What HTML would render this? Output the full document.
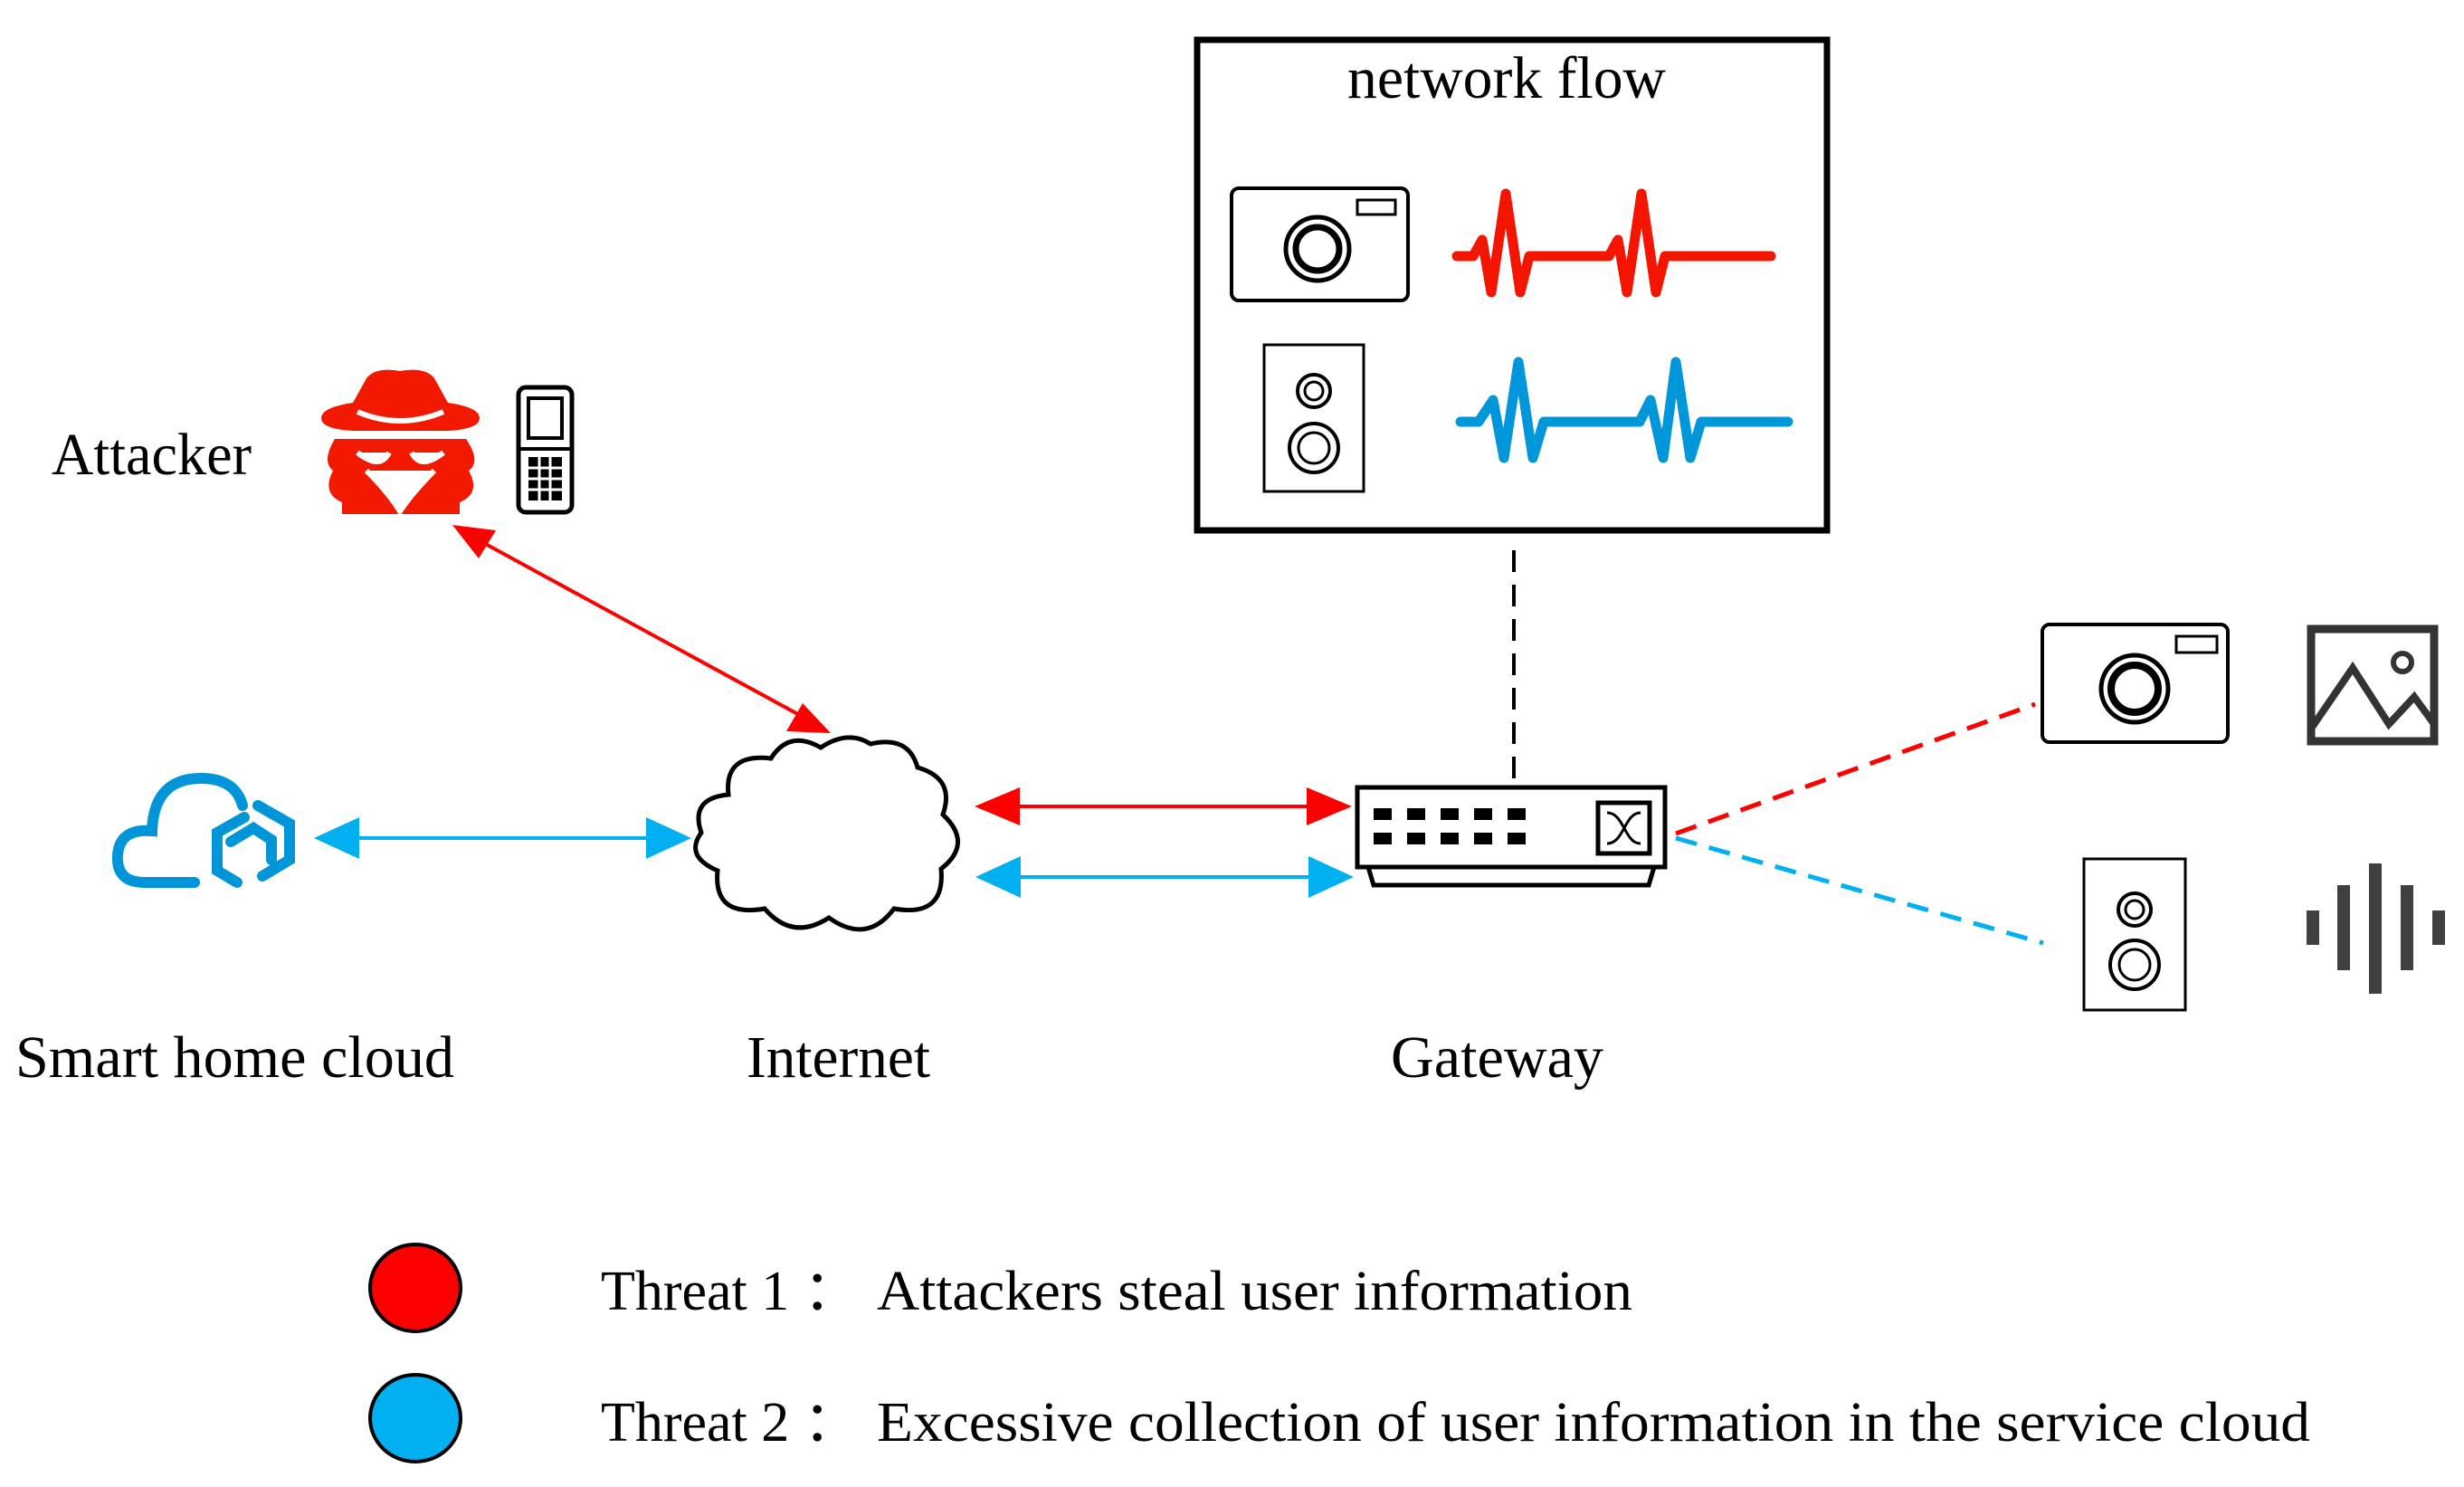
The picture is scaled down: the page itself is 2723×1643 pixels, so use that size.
<!DOCTYPE html>
<html><head><meta charset="utf-8"><style>
html,body{margin:0;padding:0;background:#fff}
svg{display:block}
text{font-family:"Liberation Serif",serif;fill:#000}
</style></head><body>
<svg width="2723" height="1643" viewBox="0 0 2723 1643" xmlns="http://www.w3.org/2000/svg">

<!-- network flow box -->
<rect x="1323" y="44" width="696" height="542" fill="none" stroke="#000" stroke-width="7"/>
<text x="1489" y="108" font-size="66" textLength="352" lengthAdjust="spacingAndGlyphs">network flow</text>
<!-- camera in box -->
<rect x="1361" y="208" width="195" height="124" rx="8" fill="none" stroke="#000" stroke-width="4"/>
<rect x="1500" y="221" width="42" height="16" fill="none" stroke="#000" stroke-width="3"/>
<circle cx="1456" cy="275" r="35" fill="none" stroke="#000" stroke-width="5"/>
<circle cx="1456" cy="275" r="24" fill="none" stroke="#000" stroke-width="7"/>
<!-- red wave -->
<polyline points="1610,283 1628,283 1638,265 1648,323 1664,214 1680,323 1690,283 1760,283 1778,283 1788,265 1798,323 1814,214 1830,323 1840,283 1957,283" fill="none" stroke="#f31500" stroke-width="11" stroke-linejoin="round" stroke-linecap="round"/>
<!-- speaker in box -->
<rect x="1397" y="381" width="110" height="162" fill="none" stroke="#000" stroke-width="3"/>
<circle cx="1452" cy="432" r="18" fill="none" stroke="#000" stroke-width="4"/><circle cx="1452" cy="432" r="10" fill="none" stroke="#000" stroke-width="3"/>
<circle cx="1452" cy="495" r="27" fill="none" stroke="#000" stroke-width="4"/><circle cx="1452" cy="495" r="17" fill="none" stroke="#000" stroke-width="3"/>
<!-- blue wave -->
<polyline points="1614,466 1634,466 1650,442 1662,506 1678,400 1694,506 1706,466 1790,466 1812,466 1824,442 1838,506 1852,400 1868,506 1880,466 1976,466" fill="none" stroke="#0097da" stroke-width="11" stroke-linejoin="round" stroke-linecap="round"/>

<!-- dashed vertical -->
<line x1="1673" y1="608" x2="1673" y2="860" stroke="#000" stroke-width="4" stroke-dasharray="24,14"/>

<!-- gateway switch -->
<rect x="1500" y="870" width="340" height="88" fill="#fff" stroke="#000" stroke-width="5"/>
<path d="M1512,958 L1518,978 L1822,978 L1828,958" fill="none" stroke="#000" stroke-width="5"/>
<g fill="#000">
<rect x="1518" y="893" width="20" height="13"/><rect x="1555" y="893" width="20" height="13"/><rect x="1592" y="893" width="20" height="13"/><rect x="1629" y="893" width="20" height="13"/><rect x="1666" y="893" width="20" height="13"/>
<rect x="1518" y="920" width="20" height="13"/><rect x="1555" y="920" width="20" height="13"/><rect x="1592" y="920" width="20" height="13"/><rect x="1629" y="920" width="20" height="13"/><rect x="1666" y="920" width="20" height="13"/>
</g>
<rect x="1766" y="887" width="57" height="56" fill="none" stroke="#000" stroke-width="5"/>
<path d="M1776,898 C1795,898 1795,932 1813,932 M1776,932 C1795,932 1795,898 1813,898" fill="none" stroke="#000" stroke-width="3"/>
<text x="1537" y="1190" font-size="66" textLength="235" lengthAdjust="spacingAndGlyphs">Gateway</text>

<!-- attacker -->
<text x="57" y="524" font-size="66" textLength="221" lengthAdjust="spacingAndGlyphs">Attacker</text>
<g fill="#f31800">
<path d="M390,445 L405,418 Q415,405 442,410 Q470,405 480,418 L495,445 Q530,450 530,462 Q530,474 495,476 L390,476 Q355,474 355,462 Q355,450 390,445 z"/>
<path d="M370,485 Q355,510 368,520 Q355,545 378,555 L378,568 L508,568 L508,555 Q532,545 518,520 Q532,510 515,485 z"/>
</g>
<path d="M395,455 Q442,475 490,455" fill="none" stroke="#fff" stroke-width="6"/>
<path d="M395,500 Q420,520 430,500 M455,500 Q465,520 490,500 M405,520 Q430,545 442,565 Q455,545 480,520" fill="#fff" stroke="#fff" stroke-width="6"/>
<!-- phone -->
<rect x="573" y="428" width="59" height="138" rx="8" fill="none" stroke="#000" stroke-width="5"/>
<rect x="584" y="440" width="37" height="44" fill="none" stroke="#000" stroke-width="4"/>
<line x1="573" y1="496" x2="632" y2="496" stroke="#000" stroke-width="4"/>
<rect x="584" y="505" width="37" height="48" fill="#000"/>
<g stroke="#fff" stroke-width="3"><line x1="596" y1="505" x2="596" y2="553"/><line x1="608" y1="505" x2="608" y2="553"/><line x1="584" y1="517" x2="621" y2="517"/><line x1="584" y1="529" x2="621" y2="529"/><line x1="584" y1="541" x2="621" y2="541"/></g>

<!-- red diagonal arrow -->
<line x1="520" y1="592" x2="900" y2="799" stroke="#f00" stroke-width="4"/>
<path d="M500,580 L548,586 L529,617 z" fill="#f00"/>
<path d="M918,810 L869,808 L887,777 z" fill="#f00"/>

<!-- Internet cloud -->
<path d="M805,878 Q800,832 852,838 Q872,806 907,826 Q937,806 962,822 Q1004,812 1014,848 Q1056,860 1042,900 Q1076,932 1040,960 Q1045,1014 988,1004 Q958,1044 916,1014 Q876,1040 845,1004 Q788,1014 793,962 Q756,946 775,920 Q762,882 805,878 z" fill="#fff" stroke="#000" stroke-width="5"/>
<text x="825" y="1190" font-size="66" textLength="203" lengthAdjust="spacingAndGlyphs">Internet</text>

<!-- smart home cloud icon -->
<g fill="none" stroke="#0095d8" stroke-width="12" stroke-linecap="round">
<path d="M215,975 L160,975 Q128,975 130,945 Q132,915 168,918 Q170,860 222,860 Q260,860 268,890"/>
<path d="M285,890 L320,910 L320,950 L290,968 M262,975 L240,962 L240,920 L270,903"/>
<path d="M255,930 L280,915 L300,928 L300,950"/>
</g>
<text x="17" y="1190" font-size="66" textLength="485" lengthAdjust="spacingAndGlyphs">Smart home cloud</text>

<!-- blue arrow cloud-internet -->
<line x1="370" y1="926" x2="740" y2="926" stroke="#00b0f0" stroke-width="4"/>
<path d="M347,926 L397,903 L397,949 z" fill="#00b0f0"/>
<path d="M764,926 L714,903 L714,949 z" fill="#00b0f0"/>

<!-- red arrow internet-gateway -->
<line x1="1100" y1="891" x2="1470" y2="891" stroke="#f00" stroke-width="4"/>
<path d="M1077,891 L1127,870 L1127,912 z" fill="#f00"/>
<path d="M1494,891 L1444,870 L1444,912 z" fill="#f00"/>
<!-- blue arrow internet-gateway -->
<line x1="1100" y1="969" x2="1470" y2="969" stroke="#00b0f0" stroke-width="4"/>
<path d="M1078,969 L1128,946 L1128,992 z" fill="#00b0f0"/>
<path d="M1496,969 L1446,946 L1446,992 z" fill="#00b0f0"/>

<!-- dashed to devices -->
<line x1="1852" y1="921" x2="2249" y2="778" stroke="#f00" stroke-width="5" stroke-dasharray="24,14"/>
<line x1="1852" y1="926" x2="2258" y2="1042" stroke="#00b0f0" stroke-width="5" stroke-dasharray="24,14"/>

<!-- right camera -->
<rect x="2257" y="690" width="205" height="130" rx="8" fill="none" stroke="#000" stroke-width="4"/>
<rect x="2405" y="703" width="45" height="18" fill="none" stroke="#000" stroke-width="3"/>
<circle cx="2359" cy="761" r="37" fill="none" stroke="#000" stroke-width="5"/>
<circle cx="2359" cy="761" r="26" fill="none" stroke="#000" stroke-width="8"/>
<!-- image icon -->
<rect x="2554" y="695" width="136" height="124" fill="none" stroke="#333" stroke-width="9"/>
<path d="M2554,805 L2600,738 L2640,800 L2668,770 L2690,800" fill="none" stroke="#333" stroke-width="8"/>
<circle cx="2655" cy="732" r="10" fill="none" stroke="#333" stroke-width="6"/>
<!-- right speaker -->
<rect x="2303" y="949" width="112" height="167" fill="none" stroke="#000" stroke-width="3"/>
<circle cx="2359" cy="1005" r="18" fill="none" stroke="#000" stroke-width="4"/><circle cx="2359" cy="1005" r="10" fill="none" stroke="#000" stroke-width="3"/>
<circle cx="2359" cy="1066" r="27" fill="none" stroke="#000" stroke-width="4"/><circle cx="2359" cy="1066" r="17" fill="none" stroke="#000" stroke-width="3"/>
<!-- sound bars -->
<g fill="#404040">
<rect x="2549" y="1006" width="14" height="38"/>
<rect x="2583" y="978" width="14" height="94"/>
<rect x="2618" y="954" width="14" height="144"/>
<rect x="2653" y="978" width="14" height="94"/>
<rect x="2688" y="1006" width="14" height="38"/>
</g>

<!-- legend -->
<ellipse cx="459" cy="1423" rx="50" ry="48" fill="#f00" stroke="#000" stroke-width="4"/>
<ellipse cx="459" cy="1567" rx="50" ry="48" fill="#00b0f0" stroke="#000" stroke-width="4"/>
<text x="664" y="1447" font-size="62">Threat 1 ：</text>
<text x="969" y="1447" font-size="62" textLength="835" lengthAdjust="spacingAndGlyphs">Attackers steal user information</text>
<text x="664" y="1592" font-size="62">Threat 2 ：</text>
<text x="969" y="1592" font-size="62" textLength="1584" lengthAdjust="spacingAndGlyphs">Excessive collection of user information in the service cloud</text>
</svg>
</body></html>
